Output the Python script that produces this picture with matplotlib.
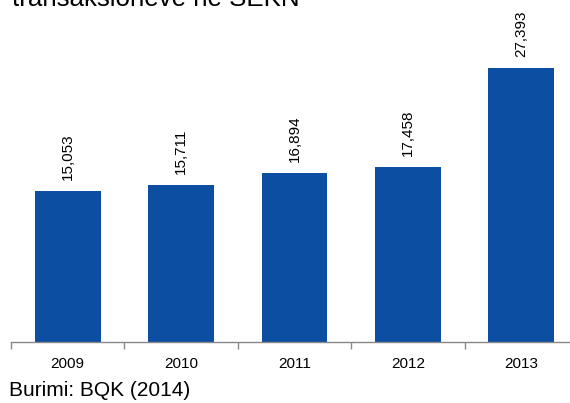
import matplotlib
matplotlib.use("Agg")
import matplotlib.pyplot as plt

years = ["2009", "2010", "2011", "2012", "2013"]
values = [15053, 15711, 16894, 17458, 27393]
labels = ["15,053", "15,711", "16,894", "17,458", "27,393"]

plt.rcParams['font.family'] = ['Liberation Sans', 'DejaVu Sans']

W, H = 570, 403
fig = plt.figure(figsize=(W / 100, H / 100), dpi=100)
ax = fig.add_axes([11 / W, (H - 342) / H, 567 / W, 342 / H])

x = list(range(len(years)))
ax.bar(x, values, width=0.58, color='#0B4EA2', zorder=2)
ax.set_xlim(-0.5, len(years) - 0.5)
ax.set_ylim(0, 34200)

for xi, v, lab in zip(x, values, labels):
    ax.annotate(lab, (xi, v), xytext=(0, 8), textcoords='offset points',
                rotation=90, ha='center', va='bottom', fontsize=11, color='black')

for s in ['top', 'right', 'left']:
    ax.spines[s].set_visible(False)
ax.spines['bottom'].set_color('#888888')
ax.spines['bottom'].set_linewidth(1.0)
ax.set_yticks([])
ax.set_xticks([i - 0.5 for i in range(len(years) + 1)], minor=False)
ax.set_xticklabels([''] * (len(years) + 1))
ax.tick_params(axis='x', length=5, color='#888888', width=1.0)
ax.set_xticks(x, minor=True)
ax.set_xticklabels(years, minor=True, fontsize=11)
ax.tick_params(axis='x', which='minor', length=0, pad=11)

fig.text(12 / W, (H - 6) / H, "transaksioneve në SEKN", fontsize=18.6,
         ha='left', va='baseline')
fig.text(9 / W, (H - 396) / H, "Burimi: BQK (2014)", fontsize=15,
         ha='left', va='baseline')

fig.savefig("out.png", dpi=100)
